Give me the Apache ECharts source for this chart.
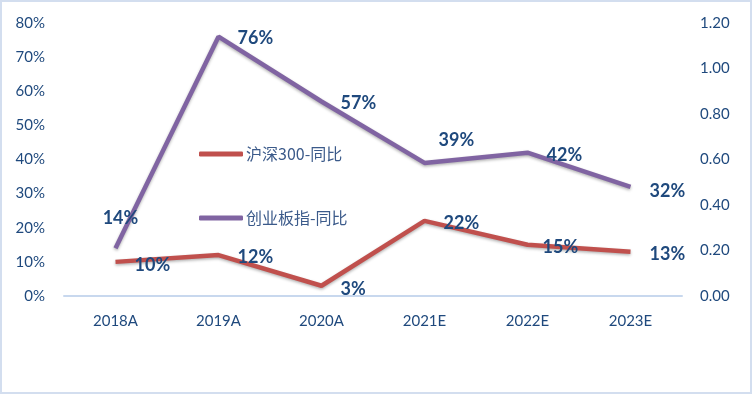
<!DOCTYPE html>
<html><head><meta charset="utf-8">
<script src="https://cdn.jsdelivr.net/npm/echarts@6/dist/echarts.min.js"></script>
<style>html,body{margin:0;padding:0;background:#fff}#c{width:752px;height:394px}</style>
</head><body><div id="c"></div>
<script>
const categories = ['2018A','2019A','2020A','2021E','2022E','2023E'];
const hs300 = [10,12,3,22,15,13];
const cyb = [14,76,57,39,42,32];
const leftTicks = {min:0,max:80,interval:10};
const rightTicks = {min:0,max:1.2,interval:0.2};

const labelColor = '#1F497D';
const lblFont = {fontFamily:'Lato',fontWeight:'bold',fontSize:18,color:labelColor};
function lbl(pos, offset){ return Object.assign({show:true,position:pos,distance:18,offset:offset||[0,2],formatter:'{c}%'},lblFont); }

const hsLabels = [lbl('right',[1,3]),lbl('right',[1,2]),lbl('right',[1,3]),lbl('right',[1,2]),lbl('right',[-3,2]),lbl('right',[1,3])];
const cyLabels = [lbl('top',[5,-3]),lbl('right',[1,2]),lbl('right',[1,2]),lbl('right',[-4,-23]),lbl('right',[1,3]),lbl('right',[1,4])];

const chart = echarts.init(document.getElementById('c'));
chart.setOption({
  animation:false,
  backgroundColor:'#fff',
  graphic:[{type:'rect',shape:{x:1,y:1,width:750,height:392},style:{fill:'none',stroke:'#D3DEEF',lineWidth:2},silent:true,z:-1}],
  grid:{left:64,right:70,top:23,bottom:98},
  legend:{
    orient:'vertical',left:194,top:141,itemGap:48,itemWidth:44,itemHeight:5,icon:'roundRect',
    textStyle:{fontFamily:'Noto Sans CJK SC',fontSize:16,color:'#3B5A8A',padding:[0,0,0,-2]},
    data:['沪深300-同比','创业板指-同比']
  },
  xAxis:{
    type:'category',data:categories,boundaryGap:true,
    axisLine:{show:true,lineStyle:{color:'#C8D8EE',width:2}},
    axisTick:{show:false},
    axisLabel:{margin:18,fontFamily:'Lato',fontSize:15,color:labelColor}
  },
  yAxis:[
    {type:'value',min:leftTicks.min,max:leftTicks.max,interval:leftTicks.interval,
     axisLine:{show:false},axisTick:{show:false},splitLine:{show:false},
     axisLabel:{margin:19,fontFamily:'Lato',fontSize:15,color:labelColor,formatter:'{value}%'}},
    {type:'value',min:rightTicks.min,max:rightTicks.max,interval:rightTicks.interval,position:'right',
     axisLine:{show:false},axisTick:{show:false},splitLine:{show:false},
     axisLabel:{margin:18,fontFamily:'Lato',fontSize:15,color:labelColor,formatter:v=>v.toFixed(2)}}
  ],
  series:[
    {name:'沪深300-同比',type:'line',yAxisIndex:0,symbol:'circle',symbolSize:0,showSymbol:true,
     data:hs300.map((v,i)=>({value:v,label:hsLabels[i]})),
     itemStyle:{color:'#C0504D'},
     lineStyle:{color:'#C0504D',width:4.5,shadowColor:'rgba(0,0,0,0.3)',shadowBlur:3,shadowOffsetY:1.5}},
    {name:'创业板指-同比',type:'line',yAxisIndex:0,symbol:'circle',symbolSize:0,showSymbol:true,
     data:cyb.map((v,i)=>({value:v,label:cyLabels[i]})),
     itemStyle:{color:'#8064A2'},
     lineStyle:{color:'#8064A2',width:4.5,shadowColor:'rgba(0,0,0,0.3)',shadowBlur:3,shadowOffsetY:1.5}}
  ]
});
</script></body></html>
